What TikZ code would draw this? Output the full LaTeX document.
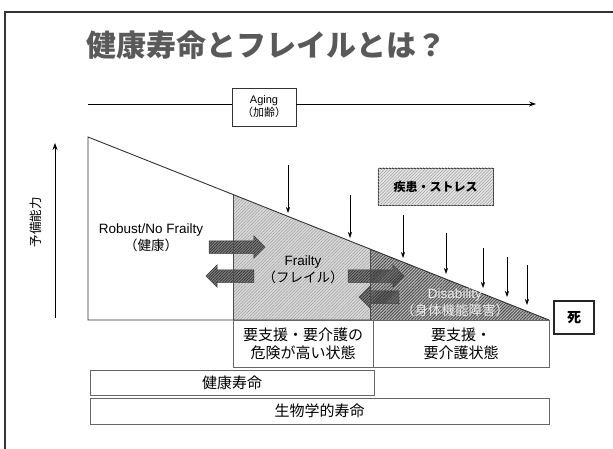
\documentclass[tikz,border=0pt]{standalone}
\usepackage{fontspec}
\setmainfont{Liberation Sans}
\newfontfamily\jp{Noto Sans CJK JP}
\usetikzlibrary{patterns.meta,shapes.arrows,arrows.meta}
\tikzset{
  hatchlight/.style={pattern={Lines[angle=45,distance=2.2pt,line width=0.5pt]},pattern color=gray!75},
  hatchdark/.style={pattern={Lines[angle=45,distance=2.2pt,line width=0.9pt]},pattern color=black!70},
  boxlbl/.style={draw=black!60,line width=0.8pt,fill=white,inner sep=0pt,align=center,font=\jp\fontsize{15}{18}\selectfont},
  blockarrow/.style={single arrow,draw=black!75,line width=0.5pt,fill=black!50,postaction={pattern={Lines[angle=45,distance=2pt,line width=0.7pt]},pattern color=black!80},minimum width=22pt,single arrow head extend=5pt,inner sep=6pt},
  stressarrow/.style={-{Stealth[length=6pt,width=4pt]},line width=0.6pt},
  lbl/.style={align=center,font=\fontsize{13.5}{17}\selectfont},
}
\begin{document}
\begin{tikzpicture}[x=1pt,y=-1pt]
\useasboundingbox (0,0) rectangle (613,448);
% slide frame
\draw[line width=1.2pt,black!80] (5,460) -- (5,12) -- (620,12);
% title
\node[font=\jp\bfseries\fontsize{30}{36}\selectfont,text=black!65] (title) at (266,45) {健康寿命とフレイルとは？};
% aging axis
\node[draw=black!80,line width=0.8pt,fill=white,minimum width=64pt,minimum height=38pt,inner sep=0pt,align=center,font=\fontsize{11}{13}\selectfont] (aging) at (264,107) {Aging\\{\jp（加齢）}};
\coordinate (agestart) at (88,104);
\coordinate (ageend) at (536,104);
\draw[line width=0.8pt] (agestart) -- (agestart-|aging.west);
\draw[line width=0.8pt,-{Stealth[length=7pt,width=5pt]}] (ageend-|aging.east) -- (ageend);
% reserve capacity axis
\coordinate (ybot) at (55,318);
\coordinate (ytop) at (55,143);
\draw[line width=0.8pt,-{Stealth[length=7pt,width=5pt]}] (ybot) -- (ytop);
\node[rotate=90,font=\jp\fontsize{12.5}{14}\selectfont] (yl) at (36,222) {予備能力};
% regions
\coordinate (p0) at (88,137);
\coordinate (p1) at (233,194.5);
\coordinate (p2) at (370,249);
\coordinate (p3) at (549,320);
\coordinate (b0) at (88,320);
\coordinate (b1) at (233,320);
\coordinate (b2) at (370,320);
\fill[white] (p0) -- (p1) -- (b1) -- (b0) -- cycle;
\fill[gray!30] (p1) -- (p2) -- (b2) -- (b1) -- cycle;
\fill[hatchlight] (p1) -- (p2) -- (b2) -- (b1) -- cycle;
\fill[gray!55] (p2) -- (p3) -- (b2) -- cycle;
% block arrows
\node[blockarrow,minimum height=56pt] (r1) at (234,247) {};
\node[blockarrow,minimum height=48pt,shape border rotate=180] (l1) at (233,276) {};
\node[blockarrow,minimum height=56pt] (r2) at (373,276) {};
\node[blockarrow,minimum height=40pt,shape border rotate=200] (l2) at (382,297) {};
\fill[hatchdark] (p2) -- (p3) -- (b2) -- cycle;
\draw[black!70,line width=0.6pt] (p1) -- (b1);
\draw[black!70,line width=0.6pt] (p2) -- (b2);
\draw[black!80,line width=0.9pt] (b2) -- (b0) -- (p0) -- (p1) -- (p2) -- (p3);
% region labels
\node[lbl] (robust) at (151,238) {Robust/No Frailty\\{\jp（健康）}};
\node[lbl] (frailty) at (303,270) {Frailty\\{\jp（フレイル）}};
\node[lbl,text=gray!15] (disab) at (455,303) {Disability\\{\jp（身体機能障害）}};
% stress box
\node[draw=black!75,line width=0.8pt,fill=gray!20,minimum width=115pt,minimum height=37pt] (stress) at (435.5,186.5) {};
\fill[hatchlight] (stress.south west) rectangle (stress.north east);
\node[font=\jp\bfseries\fontsize{12}{14}\selectfont] (stresslbl) at (stress.center) {疾患・ストレス};
% stress arrows
\coordinate (s1a) at (288,165); \coordinate (s1b) at (288,213);
\coordinate (s2a) at (350,195); \coordinate (s2b) at (350,238);
\coordinate (s3a) at (403,215); \coordinate (s3b) at (403,258);
\coordinate (s4a) at (446,233); \coordinate (s4b) at (446,274);
\coordinate (s5a) at (483,248); \coordinate (s5b) at (483,288);
\coordinate (s6a) at (507,257); \coordinate (s6b) at (507,297);
\coordinate (s7a) at (527,265); \coordinate (s7b) at (527,305);
\foreach \i in {1,...,7} {\draw[stressarrow] (s\i a) -- (s\i b);}
% death
\node[draw=black!85,line width=1.1pt,fill=white,minimum width=40pt,minimum height=33pt,font=\jp\bfseries\fontsize{14}{16}\selectfont] (death) at (574,317.5) {死};
% bottom boxes
\node[boxlbl,minimum width=140pt,minimum height=47pt] (risk) at (303,343.5) {要支援・要介護の\\危険が高い状態};
\node[boxlbl,minimum width=176pt,minimum height=47pt] (care) at (461,343.5) {要支援・\\要介護状態};
\node[boxlbl,minimum width=284pt,minimum height=25pt] (hle) at (232,382.5) {健康寿命};
\node[boxlbl,minimum width=459pt,minimum height=26pt] (ble) at (319.5,411) {生物学的寿命};
\end{tikzpicture}
\end{document}
